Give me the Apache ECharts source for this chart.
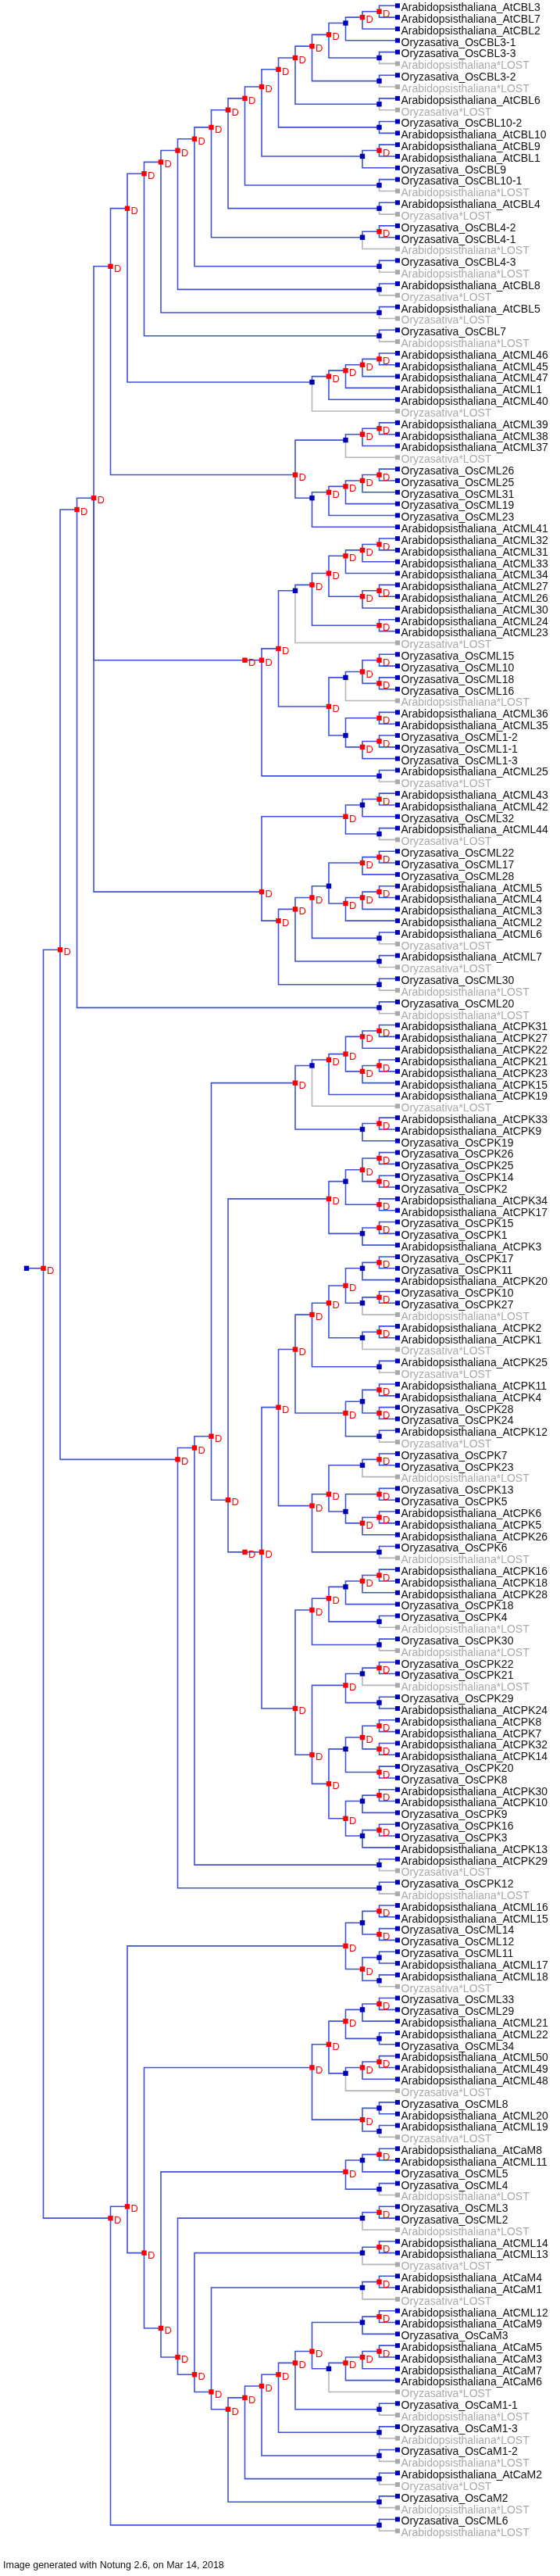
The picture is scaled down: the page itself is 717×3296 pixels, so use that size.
<!DOCTYPE html>
<html><head><meta charset="utf-8">
<script src="https://cdn.jsdelivr.net/npm/echarts@6/dist/echarts.min.js"></script>
<style>html,body{margin:0;padding:0;background:#fff}#c{width:717px;height:3296px}</style>
</head><body><div id="c"></div>
<script>
// ---------- DATA ----------
// Leaf labels, top to bottom. "At*"/"Os*" mark lost genes.
const leafTokens = [
"AtCBL3","AtCBL7","AtCBL2","OsCBL3-1","OsCBL3-3","At*","OsCBL3-2","At*","AtCBL6","Os*","OsCBL10-2","AtCBL10","AtCBL9","AtCBL1","OsCBL9","OsCBL10-1","At*","AtCBL4","Os*","OsCBL4-2","OsCBL4-1","At*","OsCBL4-3","At*","AtCBL8","Os*","AtCBL5","Os*","OsCBL7","At*",
"AtCML46","AtCML45","AtCML47","AtCML1","AtCML40","Os*","AtCML39","AtCML38","AtCML37","Os*","OsCML26","OsCML25","OsCML31","OsCML19","OsCML23","AtCML41",
"AtCML32","AtCML31","AtCML33","AtCML34","AtCML27","AtCML26","AtCML30","AtCML24","AtCML23","Os*",
"OsCML15","OsCML10","OsCML18","OsCML16","At*","AtCML36","AtCML35","OsCML1-2","OsCML1-1","OsCML1-3","AtCML25","Os*",
"AtCML43","AtCML42","OsCML32","AtCML44","Os*","OsCML22","OsCML17","OsCML28","AtCML5","AtCML4","AtCML3","AtCML2","AtCML6","Os*","AtCML7","Os*","OsCML30","At*","OsCML20","At*",
"AtCPK31","AtCPK27","AtCPK22","AtCPK21","AtCPK23","AtCPK15","AtCPK19","Os*","AtCPK33","AtCPK9","OsCPK19",
"OsCPK26","OsCPK25","OsCPK14","OsCPK2","AtCPK34","AtCPK17","OsCPK15","OsCPK1","AtCPK3",
"OsCPK17","OsCPK11","AtCPK20","OsCPK10","OsCPK27","At*","AtCPK2","AtCPK1","Os*","AtCPK25","Os*",
"AtCPK11","AtCPK4","OsCPK28","OsCPK24","AtCPK12","Os*",
"OsCPK7","OsCPK23","At*","OsCPK13","OsCPK5","AtCPK6","AtCPK5","AtCPK26","OsCPK6","At*",
"AtCPK16","AtCPK18","AtCPK28","OsCPK18","OsCPK4","At*","OsCPK30","At*",
"OsCPK22","OsCPK21","At*","OsCPK29","AtCPK24",
"AtCPK8","AtCPK7","AtCPK32","AtCPK14","OsCPK20","OsCPK8","AtCPK30","AtCPK10","OsCPK9","OsCPK16","OsCPK3","AtCPK13",
"AtCPK29","Os*","OsCPK12","At*",
"AtCML16","AtCML15","OsCML14","OsCML12","OsCML11","AtCML17","AtCML18","Os*",
"OsCML33","OsCML29","AtCML21","AtCML22","OsCML34","AtCML50","AtCML49","AtCML48","Os*",
"OsCML8","AtCML20","AtCML19","Os*",
"AtCaM8","AtCML11","OsCML5","OsCML4","At*",
"OsCML3","OsCML2","At*","AtCML14","AtCML13","Os*","AtCaM4","AtCaM1","Os*",
"AtCML12","AtCaM9","OsCaM3","AtCaM5","AtCaM3","AtCaM7","AtCaM6","Os*",
"OsCaM1-1","At*","OsCaM1-3","At*","OsCaM1-2","At*","AtCaM2","Os*","OsCaM2","At*","OsCML6","At*"
];
const speciesPrefix = {At: "Arabidopsisthaliana", Os: "Oryzasativa"};
const footerText = "Image generated with Notung 2.6, on Mar 14, 2018";

// Topology (leaves "L" consumed in order; node type after ")" : D = duplication, S = speciation)
const chainDown = (base, rungs) => rungs.reduce((a, r) => "(" + a + "," + r + ")D", base);
const chainUp = (base, rungs) => rungs.reduce((a, r) => "(" + r + "," + a + ")D", base);

const cladeCBL = chainDown("(((L,L)D,L)D,L)S", ["(L,L)S","(L,L)S","(L,L)S","(L,L)S","((L,L)D,L)S","(L,L)S","(L,L)S","((L,L)D,L)S","(L,L)S","(L,L)S","(L,L)S","(L,L)S"]);
const cladeCML46 = "(((((L,L)D,L)D,L)D,L)D,L)S";
const cladeCML39 = "((((L,L)D,L)D,L)S,(((((L,L)D,L)D,L)D,L)D,L)S)D";
const cladeCML32 = "((((((L,L)D,L)D,L)D,((L,L)D,L)D)D,(L,L)D)D,L)S";
const cladeCML15 = "((((L,L)D,(L,L)D)D,L)S,((L,L)D,((L,L)D,L)D)S)D";
const cladeCML43 = "(((L,L)D,L)S,(L,L)S)D";
const cladeCML22 = chainDown("(((L,L)D,L)D,(((L,L)D,L)D,L)D)S", ["(L,L)S","(L,L)S","(L,L)S"]);
const cladeCPK31 = "((((((L,L)D,L)D,((L,L)D,L)D)D,L)D,L)S,((L,L)D,L)S)D";
const cladeCPK26 = "((((L,L)D,(L,L)D)D,(L,L)D)S,((L,L)D,L)S)D";
const cladeCPK17 = "(((((L,L)D,L)S,((L,L)D,L)S)D,((L,L)D,L)S)D,(L,L)S)D";
const cladeCPK11 = "(((L,L)D,(L,L)D)S,(L,L)S)D";
const cladeCPK7 = "((((L,L)D,L)S,((L,L)D,((L,L)D,L)D)S)D,(L,L)S)D";
const cladeCPK16 = "(((((L,L)D,L)D,L)S,(L,L)S)D,(L,L)S)D";
const cladeCPK22 = "(((L,L)D,L)S,(L,L)S)D";
const cladeCPK8 = "((((L,L)D,(L,L)D)D,(L,L)D)S,(((L,L)D,L)S,((L,L)D,L)S)D)D";
const cladeCML16 = "(((L,L)D,(L,L)D)S,((L,L)S,(L,L)S)D)D";
const cladeCML33 = "(((((L,L)D,L)S,(L,L)S)D,(((L,L)D,L)D,L)S)D,((L,L)S,(L,L)S)D)D";
const cladeCaM8 = "(((L,L)D,L)S,(L,L)S)D";
const cladeCML3 = "((L,L)D,L)S";
const cladeCML14 = "((L,L)D,L)S";
const cladeCaM4 = "((L,L)D,L)S";
const cladeCaM = chainDown("(((L,L)D,L)S,((((L,L)D,L)D,L)D,L)S)D", ["(L,L)S","(L,L)S","(L,L)S","(L,L)S","(L,L)S"]);

// ---------- TREE BUILD ----------
const upperCML = "((" + cladeCBL + "," + cladeCML46 + ")D," + cladeCML39 + ")D";
const midCML = chainDown("((" + cladeCML32 + "," + cladeCML15 + ")D", ["(L,L)S"]);
const cmlA = chainDown("((" + upperCML + "," + midCML + ")D,(" + cladeCML43 + "," + cladeCML22 + ")D)D", ["(L,L)S"]);
const cpkLower = "(" + cladeCPK26 + ",((((" + cladeCPK17 + "," + cladeCPK11 + ")D," + cladeCPK7 + ")D,(" + cladeCPK16 + ",(" + cladeCPK22 + "," + cladeCPK8 + ")D)D)D)D)D";
const cpk = chainDown("(" + cladeCPK31 + "," + cpkLower + ")D", ["(L,L)S","(L,L)S"]);
const camLadder = chainUp(cladeCaM, [cladeCaM4, cladeCML14, cladeCML3, cladeCaM8]);
const lower = chainDown("(" + cladeCML16 + ",(" + cladeCML33 + "," + camLadder + ")D)D", ["(L,L)S"]);
const topology = "((" + cmlA + "," + cpk + ")D," + lower + ")D";

function parse(s) {
  let p = 0, li = 0;
  function n() {
    if (s[p] === "(") {
      p++;
      const ch = [n()];
      while (s[p] === ",") { p++; ch.push(n()); }
      p++;
      const t = s[p]; p++;
      return {ch, t};
    }
    p++;
    return {leaf: li++};
  }
  return n();
}
const root = parse(topology);
function measure(nd) {
  if (nd.leaf !== undefined) { nd.first = nd.last = nd.leaf; nd.h = 0; nd.y = nd.leaf; return; }
  nd.ch.forEach(measure);
  nd.first = nd.ch[0].first; nd.last = nd.ch[nd.ch.length - 1].last;
  nd.h = Math.max(...nd.ch.map(c => c.h)) + 1;
  nd.y = (nd.first + nd.last) / 2;
}
measure(root);
const H = root.h;
const N = leafTokens.length;
const isLost = i => leafTokens[i].endsWith("*");
const fullName = i => {
  const t = leafTokens[i], sp = speciesPrefix[t.slice(0, 2)];
  return t.endsWith("*") ? sp + "*LOST" : sp + "_" + t;
};

const links = [], nodes = [], labels = [];
(function walk(nd) {
  const u = H - nd.h;
  if (nd.leaf !== undefined) {
    nodes.push([u, nd.y, isLost(nd.leaf) ? 3 : 2]);
    labels.push([u, nd.y, nd.leaf]);
    return;
  }
  nodes.push([u, nd.y, nd.t === "D" ? 0 : 1]);
  nd.ch.forEach(c => {
    const lost = (c.leaf !== undefined && isLost(c.leaf)) ? 1 : 0;
    links.push([u, nd.y, H - c.h, c.y, lost]);
    walk(c);
  });
})(root);
links.sort((a, b) => b[4] - a[4]);

// ---------- CHART ----------
const BLUE = "#3d52d8", GRAY = "#b5b5b5", RED = "#ff0000", DBLUE = "#0000b8";
const FONT = "Liberation Sans, Arial, sans-serif";
const chart = echarts.init(document.getElementById("c"));
chart.setOption({
  animation: false,
  title: {text: footerText, left: 4, top: 3276, padding: 0,
    textStyle: {fontSize: 12.5, fontWeight: "normal", color: "#111", fontFamily: FONT}},
  grid: {left: 34, top: 7.3, width: 473, height: 3231},
  xAxis: {type: "value", min: 0, max: H, show: false},
  yAxis: {type: "value", min: 0, max: N - 1, inverse: true, show: false},
  series: [
    {type: "custom", data: links, silent: true,
     renderItem: (params, api) => {
       const p0 = api.coord([api.value(0), api.value(1)]);
       const p2 = api.coord([api.value(2), api.value(3)]);
       return {type: "polyline", z2: 1,
         shape: {points: [[p0[0], p0[1]], [p0[0], p2[1]], [p2[0], p2[1]]]},
         style: {stroke: api.value(4) ? GRAY : BLUE, lineWidth: 1.6, fill: null}};
     }},
    {type: "custom", data: nodes, silent: true, z: 3,
     renderItem: (params, api) => {
       const p = api.coord([api.value(0), api.value(1)]);
       const k = api.value(2);
       if (k >= 2) {
         return {type: "rect", shape: {x: p[0] - 1, y: p[1] - 3, width: 6, height: 6},
           style: {fill: k === 3 ? "#a9a9a9" : DBLUE}};
       }
       const ch = [{type: "rect", shape: {x: p[0] - 3.2, y: p[1] - 3.2, width: 6.4, height: 6.4},
         style: {fill: k === 0 ? RED : DBLUE}}];
       if (k === 0) ch.push({type: "text", x: p[0] + 4.5, y: p[1] + 3.5,
         style: {text: "D", fill: RED, font: "13px " + FONT, textAlign: "left", textVerticalAlign: "middle"}});
       return {type: "group", children: ch};
     }},
    {type: "custom", data: labels, silent: true, z: 4,
     renderItem: (params, api) => {
       const p = api.coord([api.value(0), api.value(1)]);
       const i = api.value(2);
       return {type: "text", x: p[0] + 6.5, y: p[1] + 3,
         style: {text: fullName(i), fill: isLost(i) ? "#a9a9a9" : "#111",
           font: "14px " + FONT, textAlign: "left", textVerticalAlign: "middle"}};
     }}
  ]
});
</script>
</body></html>
